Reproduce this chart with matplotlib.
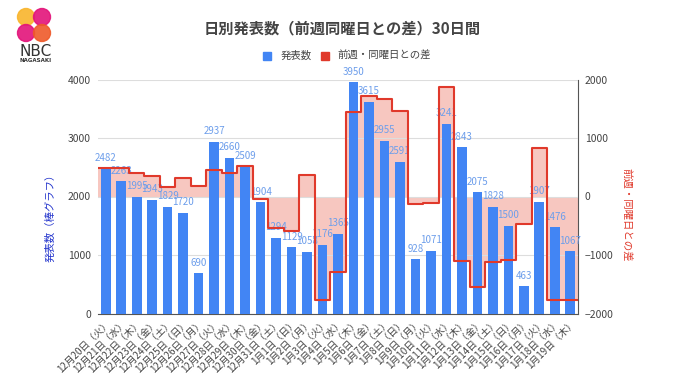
import matplotlib
matplotlib.use("Agg")
import matplotlib.pyplot as plt
from matplotlib.patches import Circle
import numpy as np

plt.rcParams['font.family'] = ['Noto Sans CJK JP', 'DejaVu Sans']

# daily counts, 12/20 - 1/19
dates = ['12月20日', '12月21日', '12月22日', '12月23日', '12月24日', '12月25日', '12月26日',
         '12月27日', '12月28日', '12月29日', '12月30日', '12月31日', '1月1日', '1月2日',
         '1月3日', '1月4日', '1月5日', '1月6日', '1月7日', '1月8日', '1月9日',
         '1月10日', '1月11日', '1月12日', '1月13日', '1月14日', '1月15日', '1月16日',
         '1月17日', '1月18日', '1月19日']
weekdays = ['火', '水', '木', '金', '土', '日', '月'] * 4 + ['火', '水', '木']
counts = [2482, 2263, 1995, 1943, 1829, 1720, 690,
          2937, 2660, 2509, 1904, 1294, 1129, 1058,
          1176, 1365, 3950, 3615, 2955, 2591, 928,
          1071, 3241, 2843, 2075, 1828, 1500, 463,
          1907, 1476, 1067]
# difference vs same weekday of previous week
diffs = [480, 480, 396, 350, 168, 311, 185,
         455, 397, 514, -39, -535, -591, 368,
         -1761, -1295, 1441, 1711, 1661, 1462, -130,
         -105, 1876, -1107, -1540, -1127, -1091, -465,
         836, -1765, -1776]

labels = [f'{d}（{w}）' for d, w in zip(dates, weekdays)]
x = np.arange(len(counts))

BLUE = '#4285F4'
RED = '#E0392B'
PINK = '#F6B9B1'
GREY = '#444444'

fig = plt.figure(figsize=(6.8, 3.82), dpi=100)
rect = [98 / 680, 1 - 313.5 / 382, 480 / 680, 234 / 382]

# fill of the diff series (bottom layer)
ax2 = fig.add_axes(rect)
ax = fig.add_axes(rect, sharex=ax2)
ax3 = fig.add_axes(rect, sharex=ax2)
ax2.set_zorder(1)
ax.set_zorder(2)
ax3.set_zorder(3)
ax.patch.set_visible(False)
ax3.patch.set_visible(False)

xe = np.append(x - 0.5, x[-1] + 0.5)
ye = np.append(diffs, diffs[-1])
ax2.fill_between(xe, 0, ye, step='post', color=PINK, alpha=0.8, linewidth=0)
ax2.set_ylim(-2000, 2000)
ax2.set_yticks([-2000, -1000, 0, 1000, 2000])
ax2.yaxis.tick_right()
ax2.yaxis.set_label_position('right')
ax2.tick_params(axis='y', length=0, labelsize=7.5, labelcolor=GREY, pad=5)
ax2.set_ylabel('前週・同曜日との差', color=RED, fontsize=7.5, rotation=270,
               va='center')
ax2.yaxis.set_label_coords(1.10, 0.42)
for s in ['top', 'left', 'bottom']:
    ax2.spines[s].set_visible(False)
ax2.spines['right'].set_color('#555555')
ax2.tick_params(axis='x', length=0, labelbottom=False)

# bars
bars = ax.bar(x, counts, width=0.62, color=BLUE, zorder=3)
ax.bar_label(bars, padding=4, color='#6D9EEB', fontsize=7)
ax.set_ylim(0, 4000)
ax.set_xlim(-0.5, len(counts) - 0.5)
ax.set_yticks([0, 1000, 2000, 3000, 4000])
ax.grid(axis='y', color='#DDDDDD', linewidth=0.8, zorder=0)
ax.set_axisbelow(True)
ax.tick_params(axis='y', length=0, labelsize=7.5, labelcolor=GREY, pad=5)
ax.set_ylabel('発表数（棒グラフ）', color='#2233CC', fontsize=7.5, va='center')
ax.yaxis.set_label_coords(-0.10, 0.42)
ax.set_xticks(x)
ax.set_xticklabels(labels, rotation=45, ha='right', rotation_mode='anchor',
                   fontsize=7, color=GREY)
ax.tick_params(axis='x', length=0, pad=3)
for s in ['top', 'left', 'right']:
    ax.spines[s].set_visible(False)
ax.spines['bottom'].set_color('#555555')

# step line of the diff series (top layer)
ax3.step(xe, ye, where='post', color=RED, linewidth=1.5)
ax3.set_ylim(-2000, 2000)
ax3.axis('off')

# title and legend
fig.text(342 / 680, 1 - 28 / 382, '日別発表数（前週同曜日との差）30日間',
         ha='center', va='center', fontsize=11, fontweight='bold', color=GREY)
leg_y = 1 - 56 / 382
fig.patches.append(plt.Rectangle((263 / 680, leg_y - 4 / 382), 8 / 680, 8 / 382,
                                 transform=fig.transFigure, color=BLUE))
fig.text(281 / 680, leg_y, '発表数', ha='left', va='center', fontsize=7.5, color=GREY)
fig.patches.append(plt.Rectangle((321 / 680, leg_y - 4 / 382), 8 / 680, 8 / 382,
                                 transform=fig.transFigure, color=RED))
fig.text(337 / 680, leg_y, '前週・同曜日との差', ha='left', va='center', fontsize=7.5,
         color=GREY)

# logo
lax = fig.add_axes([14 / 680, 1 - 44 / 382, 40 / 680, 38 / 382])
lax.set_xlim(0, 40)
lax.set_ylim(0, 38)
lax.set_aspect('equal')
lax.axis('off')
for cx, cy, c in [(12, 27, '#F9B52C'), (28, 27, '#E3147A'),
                  (12, 11, '#E3147A'), (28, 11, '#EF5A2A')]:
    lax.add_patch(Circle((cx, cy), 8.5, color=c, alpha=0.9))
fig.text(36 / 680, 1 - 51 / 382, 'NBC', ha='center', va='center', fontsize=11,
         color='#333333', family='DejaVu Sans')
fig.text(36 / 680, 1 - 61 / 382, 'NAGASAKI', ha='center', va='center', fontsize=4,
         color='#333333', fontweight='bold', family='DejaVu Sans')

fig.savefig('out.png', dpi=100)
